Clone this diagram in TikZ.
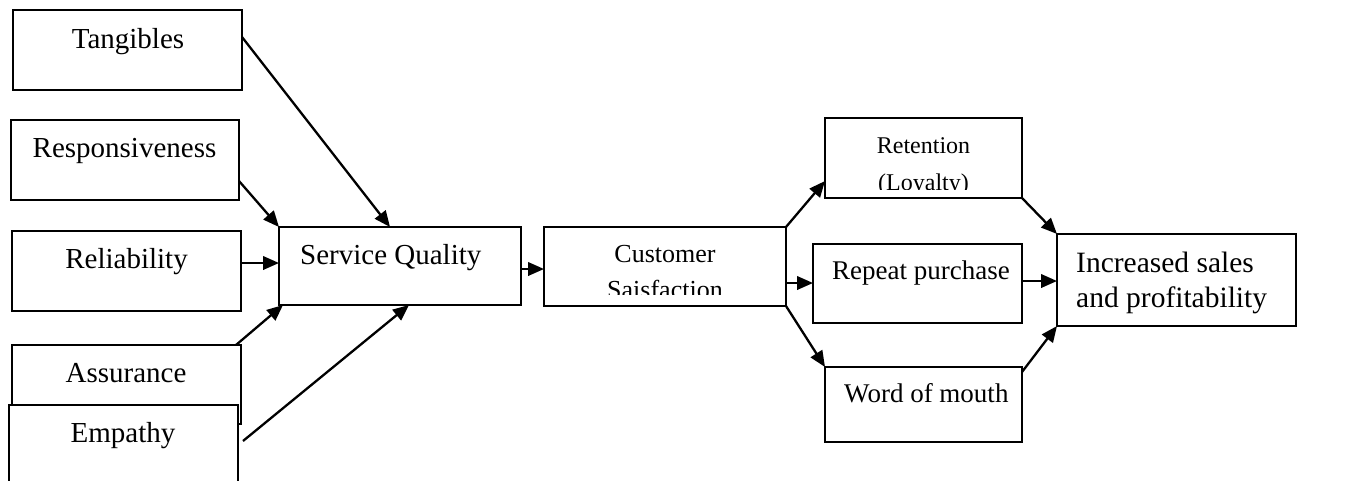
\documentclass[tikz,border=0pt]{standalone}
\usepackage{fontspec}
\setmainfont{Liberation Serif}
\usetikzlibrary{arrows.meta}
\begin{document}
\begin{tikzpicture}[x=1pt,y=-1pt,
  box/.style={draw, line width=1.2pt, fill=white, rectangle, inner sep=0pt, outer sep=0pt},
  arr/.style={line width=2.3pt, -{Triangle[length=16pt,width=13.5pt]}},
  lbl/.style={inner sep=0pt, anchor=base, font=\fontsize{29}{33}\selectfont},
  lblw/.style={lbl, anchor=base west},
]
\clip (0,0) rectangle (1347,480);
\fill[white] (0,0) rectangle (1347,480);

% the five service dimensions
\node[box, minimum width=229pt, minimum height=80pt] (tang) at (127.5,50) {};
\node[box, minimum width=228pt, minimum height=80pt] (resp) at (125,160) {};
\node[box, minimum width=229pt, minimum height=80pt] (reli) at (126.5,271) {};
\node[box, minimum width=229pt, minimum height=79pt] (assu) at (126.5,384.5) {};
\node[box, minimum width=229pt, minimum height=80pt] (empa) at (123.5,445) {};

\node[lbl] (tangT) at (128,48) {Tangibles};
\node[lbl] (respT) at (124.5,157) {Responsiveness};
\node[lbl] (reliT) at (126.5,268) {Reliability};
\node[lbl] (assuT) at (126,382) {Assurance};
\node[lbl] (empaT) at (123,442) {Empathy};

% central chain
\node[box, minimum width=242pt, minimum height=78pt] (sq) at (400,266) {};
\node[lblw] (sqT) at (300,264) {Service Quality};

\node[box, minimum width=242pt, minimum height=79pt] (cs) at (665,266.5) {};
\begin{scope}
  \clip (544,227) rectangle (786,294.5);
  \node[lbl, font=\fontsize{26}{30}\selectfont] (csT1) at (665,262) {Customer};
  \node[lbl, font=\fontsize{26}{30}\selectfont] (csT2) at (665,298) {Saisfaction};
\end{scope}

% outcomes
\node[box, minimum width=197pt, minimum height=80pt] (ret) at (923.5,158) {};
\begin{scope}
  \clip (825,118) rectangle (1022,189);
  \node[lbl, font=\fontsize{24}{28}\selectfont] (retT1) at (923.5,153) {Retention};
  \node[lbl, font=\fontsize{24}{28}\selectfont] (retT2) at (923.5,190) {(Loyalty)};
\end{scope}

\node[box, minimum width=209pt, minimum height=79pt] (rep) at (917.5,283.5) {};
\node[lblw, font=\fontsize{27}{31}\selectfont] (repT) at (832,279) {Repeat purchase};

\node[box, minimum width=197pt, minimum height=75pt] (wom) at (923.5,404.5) {};
\node[lblw, font=\fontsize{27}{31}\selectfont] (womT) at (844,402) {Word of mouth};

\node[box, minimum width=239pt, minimum height=92pt] (inc) at (1176.5,280) {};
\node[lblw, font=\fontsize{29.5}{33}\selectfont] (incT1) at (1076,272) {Increased sales};
\node[lblw, font=\fontsize{29.5}{33}\selectfont] (incT2) at (1076,307) {and profitability};

% connectors
\draw[arr] ([yshift=13pt]tang.east) -- ([xshift=-10pt]sq.north);
\draw[arr] ([yshift=-21pt]resp.east) -- (sq.north west);
\draw[arr] ([yshift=8pt]reli.east) coordinate (r1) -- (sq.west |- r1);
\draw[arr] ([xshift=-5pt]assu.north east) -- ([xshift=4pt]sq.south west);
\draw[arr] ([xshift=5pt,yshift=4pt]empa.east) -- ([xshift=9pt]sq.south);

\draw[arr] ([yshift=-3pt]sq.east) coordinate (s1) -- (cs.west |- s1);

\draw[arr] (cs.north east) -- ([yshift=-23pt]ret.west);
\draw[arr] ([yshift=-16.5pt]cs.east) coordinate (c2) -- (rep.west |- c2);
\draw[arr] (cs.south east) -- (wom.north west);

\draw[arr] (ret.south east) -- (inc.north west);
\draw[arr] ([yshift=2.5pt]rep.east) coordinate (p1) -- (inc.west |- p1);
\draw[arr] ([yshift=-5pt]wom.north east) -- (inc.south west);
\end{tikzpicture}
\end{document}
